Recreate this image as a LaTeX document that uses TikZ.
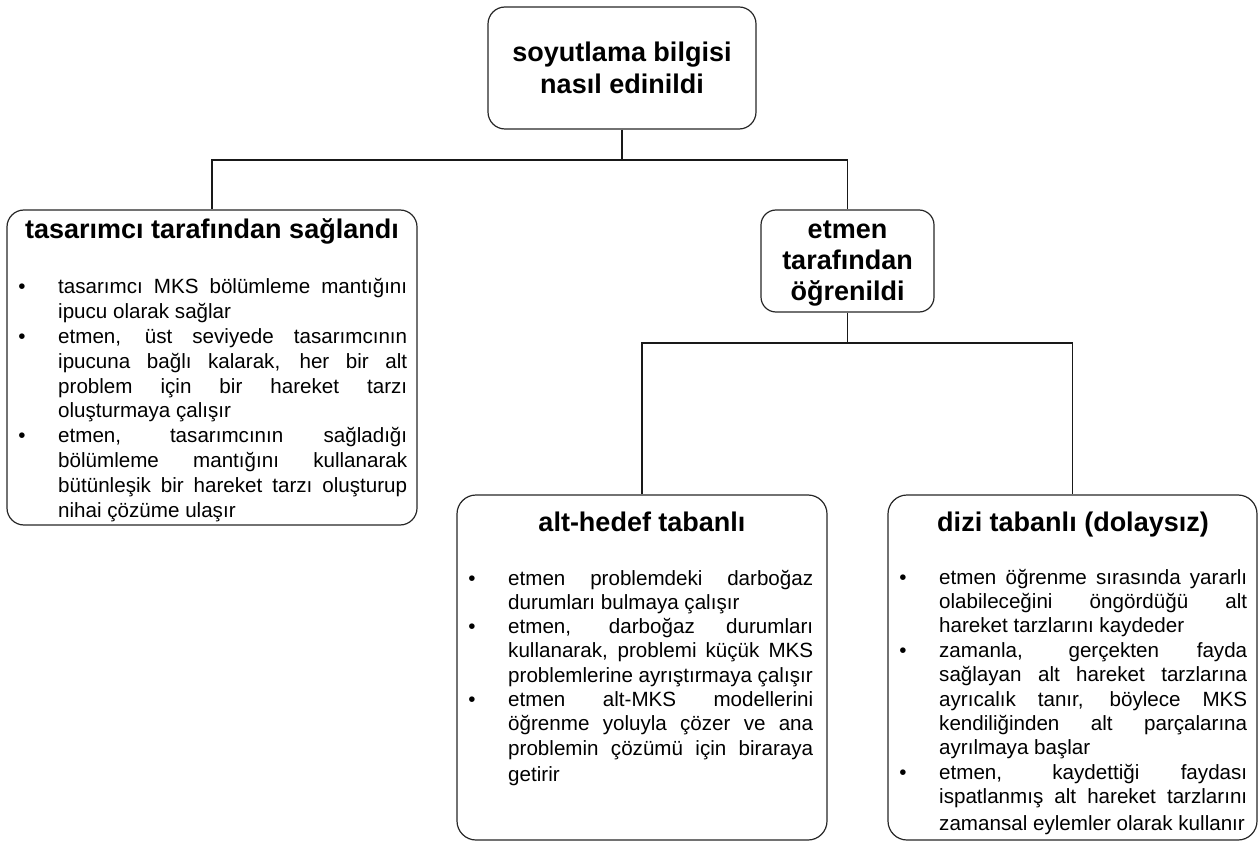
\documentclass[tikz,border=0pt]{standalone}
\usepackage{fontspec}
\setmainfont{Liberation Sans}
\setlength\parindent{0pt}
% a justified line spread to the full text width
\newcommand\jline[1]{\makebox[\hsize][s]{\spaceskip=0pt\xspaceskip=0pt #1}}
% bullet hung to the left of the item text
\newcommand\bitem{\leavevmode\llap{\textbullet\hspace{32.5pt}}}
% natural word spaces of the font
\newcommand\natsp{\spaceskip=0pt\xspaceskip=0pt\relax}

\begin{document}
\begin{tikzpicture}[x=1pt,y=-1pt,
  box/.style={draw=black!85, line width=1.2pt, rounded corners=17pt, inner sep=0pt},
  head/.style={font=\fontsize{27}{32}\selectfont\bfseries, align=center, inner sep=0pt},
  body/.style={font=\fontsize{20.6}{24.6}\selectfont, align=left, inner sep=0pt, anchor=base west},
  link/.style={draw=black!90, line width=1.1pt}]
\useasboundingbox (0,0) rectangle (1258,842);

% top level
\node[box, head, minimum width=268pt, minimum height=122pt] (root) at (622,68)
  {soyutlama bilgisi\\nasıl edinildi};

% second level
\node[box, minimum width=410pt, minimum height=315pt] (left) at (212,367.5) {};
\node[head, anchor=base] (lefttitle) at (212,239) {tasarımcı tarafından sağlandı};
\node[body, text width=349pt, font=\fontsize{20.6}{24.8}\selectfont] (leftbody) at (58,294) {\natsp
\bitem\jline{tasarımcı MKS bölümleme mantığını}\\
ipucu olarak sağlar\\
\bitem\jline{etmen, üst seviyede tasarımcının}\\
\jline{ipucuna bağlı kalarak, her bir alt}\\
\jline{problem için bir hareket tarzı}\\
oluşturmaya çalışır\\
\bitem\jline{etmen, tasarımcının sağladığı}\\
\jline{bölümleme mantığını kullanarak}\\
\jline{bütünleşik bir hareket tarzı oluşturup}\\
nihai çözüme ulaşır};

\node[box, minimum width=173pt, minimum height=102pt, rounded corners=15pt] (etmen) at (847.5,261) {};
\node[head, font=\fontsize{27}{31}\selectfont\bfseries] (etmentitle) at (847.5,264)
  {etmen\\tarafından\\öğrenildi};

% third level
\node[box, minimum width=370pt, minimum height=345pt, rounded corners=19pt] (alt) at (642,667.5) {};
\node[head, anchor=base] (alttitle) at (642,531) {alt-hedef tabanlı};
\node[body, text width=305pt, font=\fontsize{20.6}{24.3}\selectfont] (altbody) at (508,585) {\natsp
\bitem\jline{etmen problemdeki darboğaz}\\
durumları bulmaya çalışır\\
\bitem\jline{etmen, darboğaz durumları}\\
\jline{kullanarak, problemi küçük MKS}\\
problemlerine ayrıştırmaya çalışır\\
\bitem\jline{etmen alt-MKS modellerini}\\
\jline{öğrenme yoluyla çözer ve ana}\\
\jline{problemin çözümü için biraraya}\\[2.5pt]
getirir};

\node[box, minimum width=369pt, minimum height=345pt, rounded corners=19pt] (dizi) at (1072.5,667.5) {};
\node[head, anchor=base] (dizititle) at (1073,531) {dizi tabanlı (dolaysız)};
\node[body, text width=308pt, font=\fontsize{20.6}{24.4}\selectfont] (dizibody) at (939,584) {\natsp
\bitem\jline{etmen öğrenme sırasında yararlı}\\
\jline{olabileceğini öngördüğü alt}\\
hareket tarzlarını kaydeder\\
\bitem\jline{zamanla, gerçekten fayda}\\
\jline{sağlayan alt hareket tarzlarına}\\
\jline{ayrıcalık tanır, böylece MKS}\\
\jline{kendiliğinden alt parçalarına}\\
ayrılmaya başlar\\
\bitem\jline{etmen, kaydettiği faydası}\\
\jline{ispatlanmış alt hareket tarzlarını}\\[2pt]
\mbox{zamansal eylemler olarak kullanır}};

% connectors
\coordinate (bus1) at (622,160);
\coordinate (bus2) at (847.5,343);
\draw[link] (root.south) -- (bus1);
\draw[link] (bus1) -| (left.north);
\draw[link] (bus1) -| (etmen.north);
\draw[link] (etmen.south) -- (bus2);
\draw[link] (bus2) -| (alt.north);
\draw[link] (bus2) -| (dizi.north);
\end{tikzpicture}
\end{document}
